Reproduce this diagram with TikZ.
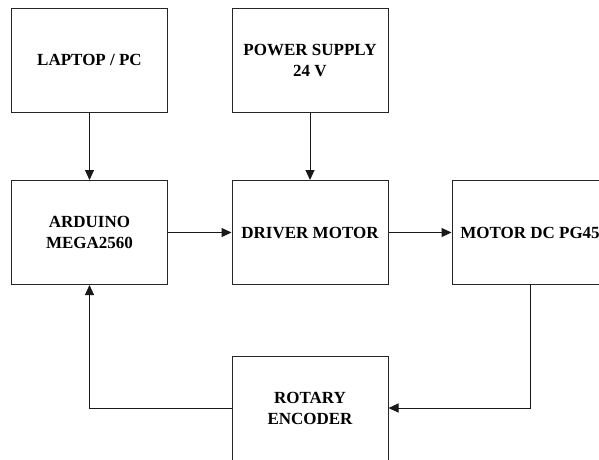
\documentclass[tikz,border=0pt]{standalone}
\usepackage{fontspec}
\setmainfont{Liberation Serif}
\usetikzlibrary{arrows.meta}
\begin{document}
\begin{tikzpicture}[x=1pt,y=-1pt,
  blockbox/.style={draw=black!85,line width=1pt,minimum width=156pt,minimum height=104pt,inner sep=0pt,align=center,font=\fontsize{17}{21}\selectfont\bfseries},
  conn/.style={draw=black!90,line width=1pt,-{Triangle[length=10pt,width=9pt]}}]
\useasboundingbox (0,0) rectangle (599,459);
\clip (0,0) rectangle (599,459);
\fill[white] (0,0) rectangle (599,459);
\node[blockbox] (laptop) at (89.5,60) {LAPTOP / PC};
\node[blockbox] (power) at (310,60) {POWER SUPPLY\\24 V};
\node[blockbox] (arduino) at (89.5,232.5) {ARDUINO\\MEGA2560};
\node[blockbox] (driver) at (310,232.5) {DRIVER MOTOR};
\node[blockbox] (motor) at (530,232.5) {MOTOR DC PG45};
\node[blockbox] (rotary) at (310,408) {ROTARY\\ENCODER};
\draw[conn] (laptop.south) -- (arduino.north);
\draw[conn] (power.south) -- (driver.north);
\draw[conn] (arduino.east) -- (driver.west);
\draw[conn] (driver.east) -- (motor.west);
\draw[conn] (motor.south) |- (rotary.east);
\draw[conn] (rotary.west) -| (arduino.south);
\end{tikzpicture}
\end{document}
